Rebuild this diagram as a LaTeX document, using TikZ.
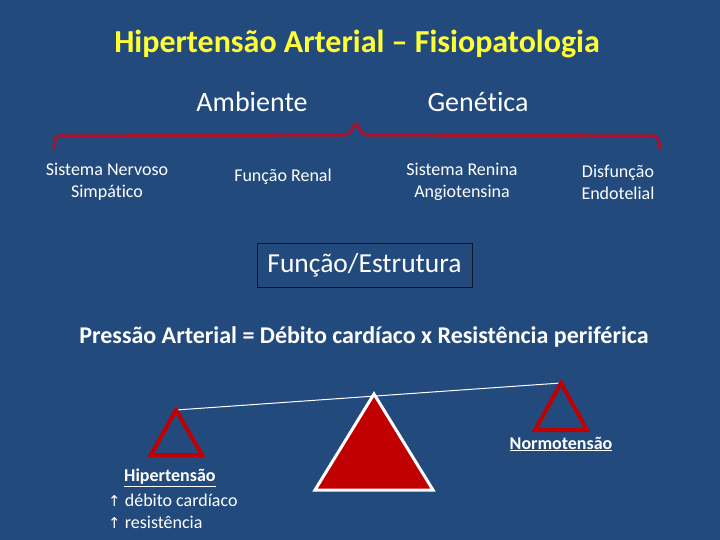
\documentclass[tikz,border=0pt]{standalone}
\usepackage{fontspec}
\setmainfont{Carlito}[Ligatures=NoCommon]
\newfontfamily\symfont{DejaVu Sans}
\definecolor{bg}{HTML}{224A7D}
\definecolor{titley}{HTML}{FFFF33}
\definecolor{bracered}{HTML}{A8122A}
\definecolor{trired}{HTML}{C00000}
\tikzset{
  lbl/.style={text=white, align=center, font=\fontsize{18}{22}\selectfont, inner sep=0pt},
  big/.style={text=white, font=\fontsize{28}{32}\selectfont, inner sep=0pt},
  smalltri/.style={draw=trired, line width=4pt, line join=miter},
}
\begin{document}
\begin{tikzpicture}[x=1pt,y=-1pt]
\fill[bg] (0,0) rectangle (720,540);
\useasboundingbox (0,0) rectangle (720,540);
\node[text=titley, font=\fontsize{32}{36}\selectfont\bfseries, inner sep=0pt] (title) at (357,44) {Hipertensão Arterial – Fisiopatologia};
\node[big] (amb) at (252,102) {Ambiente};
\node[big] (gen) at (478,102) {Genética};
\draw[bracered, line width=3pt, rounded corners=4pt] (54,149) -- (55,136) -- (349,135) -- (356,122) -- (363,135) -- (658,136) -- (660,149);
\node[lbl] (sns) at (107,182) {Sistema Nervoso\\Simpático};
\node[lbl] (fr) at (283,177) {Função Renal};
\node[lbl] (sra) at (462,182) {Sistema Renina\\Angiotensina};
\node[lbl] (de) at (618,182) {Disfunção\\Endotelial};
\node[draw=black!70!bg, line width=0.8pt, minimum width=215pt, minimum height=44pt, text=white, font=\fontsize{27.5}{30}\selectfont, inner sep=0pt] (fe) at (364.5,265) {Função/Estrutura};
\node[text=white, font=\fontsize{24}{28}\selectfont\bfseries, inner sep=0pt] (pa) at (364,337) {Pressão Arterial = Débito cardíaco x Resistência periférica};
\coordinate (lt) at (176,410);
\coordinate (rt) at (561,383);
\draw[white, line width=1pt] (lt) -- (rt);
\draw[fill=trired, draw=white, line width=3pt, line join=miter] (374,394) -- (433,490) -- (315,490) -- cycle;
\draw[smalltri] (lt) -- (202,455) -- (151,455) -- cycle;
\draw[smalltri] (rt) -- (587,430) -- (535,430) -- cycle;
\node[text=white, font=\fontsize{18}{22}\selectfont\bfseries, inner sep=0pt] (nt) at (561,444) {\underline{Normotensão}};
\node[text=white, font=\fontsize{18}{22}\selectfont\bfseries, inner sep=0pt, anchor=west] (ht) at (124,478) {\underline{Hipertensão}};
\node[text=white, font=\fontsize{18}{22}\selectfont, inner sep=0pt, anchor=west] (dc) at (108,500) {{\symfont\fontsize{15}{18}\selectfont ↑} débito cardíaco};
\node[text=white, font=\fontsize{18}{22}\selectfont, inner sep=0pt, anchor=west] (rs) at (108,522) {{\symfont\fontsize{15}{18}\selectfont ↑} resistência};
\end{tikzpicture}
\end{document}
